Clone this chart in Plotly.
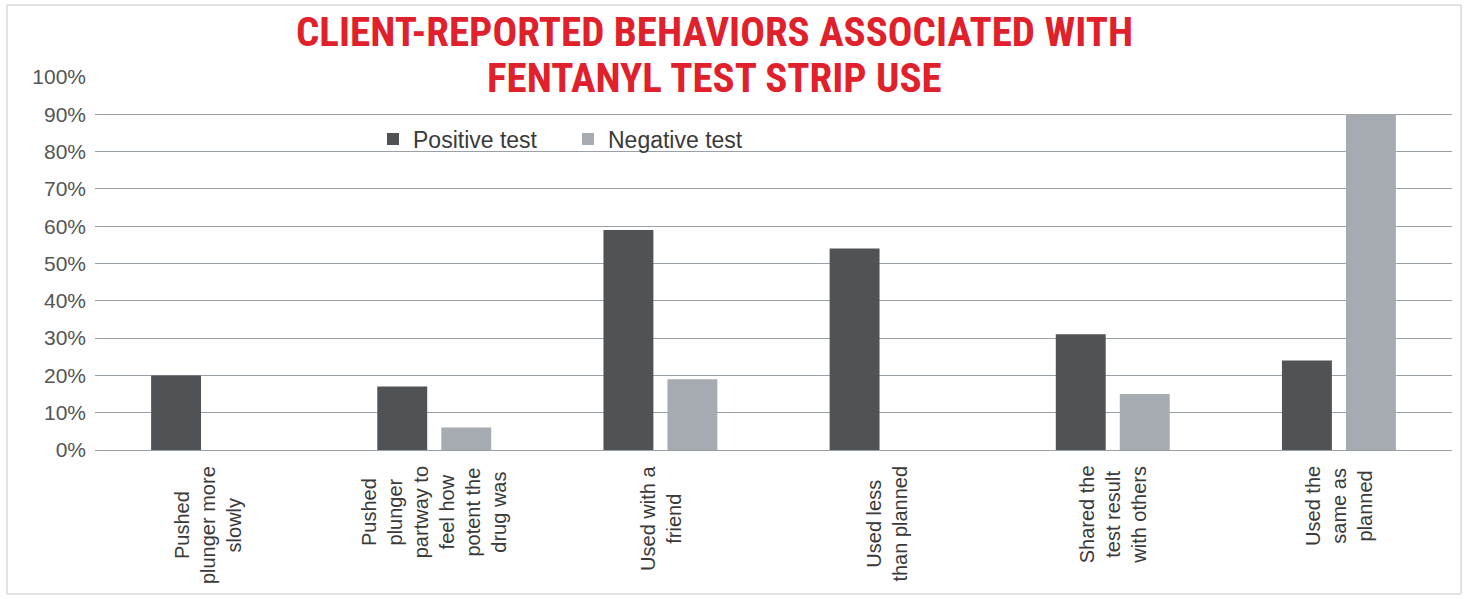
import plotly.graph_objects as go

# Behaviours reported by clients after using a fentanyl test strip
categories = [
    "Pushed<br>plunger more<br>slowly",
    "Pushed<br>plunger<br>partway to<br>feel how<br>potent the<br>drug was",
    "Used with a<br>friend",
    "Used less<br>than planned",
    "Shared the<br>test result<br>with others",
    "Used the<br>same as<br>planned",
]
positive_test = [20, 17, 59, 54, 31, 24]
negative_test = [0, 6, 19, 0, 15, 90]
y_ticks = [0, 10, 20, 30, 40, 50, 60, 70, 80, 90, 100]
y_tick_labels = ["0%", "10%", "20%", "30%", "40%", "50%", "60%", "70%", "80%", "90%", "100%"]
title_lines = ["CLIENT-REPORTED BEHAVIORS ASSOCIATED WITH", "FENTANYL TEST STRIP USE"]

W, H = 1469, 599
M_L, M_R, M_T, M_B = 95, 17, 77, 149
plot_w = W - M_L - M_R
plot_h = H - M_T - M_B


def py(pix):
    """Pixel row from the top of the page -> paper y coordinate."""
    return (M_T + plot_h - pix) / plot_h


def px(pix):
    """Pixel column from the left of the page -> paper x coordinate."""
    return (pix - M_L) / plot_w


fig = go.Figure()
fig.add_trace(go.Bar(name="Positive test", x=categories, y=positive_test,
                     marker=dict(color="#4f5356", line=dict(width=0))))
fig.add_trace(go.Bar(name="Negative test", x=categories, y=negative_test,
                     marker=dict(color="#a6abb1", line=dict(width=0))))

label_font = dict(family="Liberation Sans, Arial, sans-serif", size=20, color="#3a3a3a")

# Category labels, rotated and centred line by line beneath the axis
for cat in categories:
    fig.add_annotation(
        x=cat, xref="x", y=py(464), yref="paper",
        text=cat, textangle=-90, showarrow=False,
        xanchor="center", yanchor="top", align="center",
        font=label_font,
    )

# Two-line red heading
title_font = dict(family="Liberation Sans Narrow, Roboto Condensed, DejaVu Sans Condensed, sans-serif",
                  size=41, color="#e0202b", weight="bold")
for line, centre in zip(title_lines, [32, 78]):
    fig.add_annotation(
        x=px(714), xref="paper", y=py(centre), yref="paper",
        text=line, showarrow=False, xanchor="center", yanchor="middle",
        font=title_font,
    )

# Thin frame round the whole chart
fig.add_shape(
    type="rect", xref="paper", yref="paper",
    x0=px(7), x1=px(1461), y0=py(594), y1=py(5),
    line=dict(color="#c4c6ca", width=1), layer="below",
)

fig.update_layout(
    width=W, height=H,
    margin=dict(l=M_L, r=M_R, t=M_T, b=M_B),
    paper_bgcolor="white", plot_bgcolor="white",
    barmode="group", bargap=0.434, bargroupgap=0.22,
    legend=dict(
        orientation="h", x=px(373), xanchor="left",
        y=py(139), yanchor="middle",
        entrywidth=150, entrywidthmode="pixels",
        font=dict(family="Liberation Sans, Arial, sans-serif", size=23, color="#3a3a3a"),
        bgcolor="rgba(0,0,0,0)", itemclick=False,
    ),
    showlegend=True,
)

fig.update_xaxes(showticklabels=False, showgrid=False, zeroline=False,
                 showline=False, ticks="")
fig.update_yaxes(
    range=[0, 100], tickmode="array", tickvals=y_ticks, ticktext=y_tick_labels,
    showgrid=True, gridcolor="#9aa0a8", gridwidth=1,
    zeroline=True, zerolinecolor="#9aa0a8", zerolinewidth=1,
    showline=False, ticks="", ticklabelstandoff=8,
    tickfont=dict(family="Liberation Sans, Arial, sans-serif", size=21, color="#555555"),
)

fig.write_html("out.html")
